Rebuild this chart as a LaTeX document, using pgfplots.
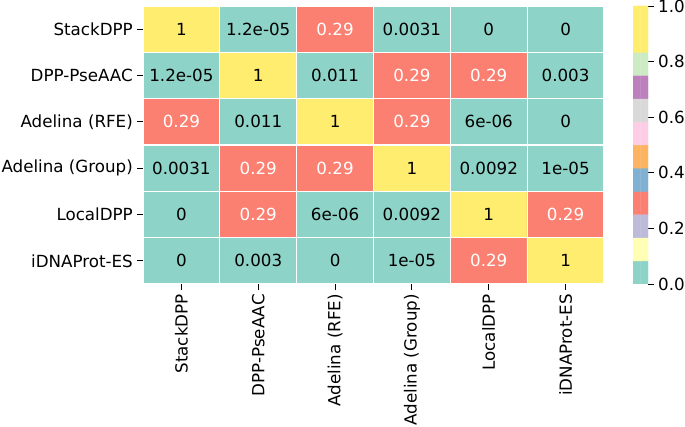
\documentclass[border=0pt]{standalone}
\usepackage{pgfplots}
\usepackage{pgfplotstable}
\usepackage{fontspec}
\setmainfont{DejaVu Sans}
\pgfplotsset{compat=1.18}
\newcommand\fs{\fontsize{16.7}{20}\selectfont}
\pgfplotsset{colormap={set3}{
 rgb255=(141,211,199) rgb255=(255,255,179) rgb255=(190,186,218) rgb255=(251,128,114)
 rgb255=(128,177,211) rgb255=(253,180,98) rgb255=(179,222,105) rgb255=(252,205,229)
 rgb255=(217,217,217) rgb255=(188,128,189) rgb255=(204,235,197) rgb255=(255,237,111)
 rgb255=(255,237,111)}}
\pgfplotstableread{
x y v label w
0 5 1 1 0
1 5 0.000012 1.2e-05 0
2 5 0.29 0.29 100
3 5 0.0031 0.0031 0
4 5 0 0 0
5 5 0 0 0
0 4 0.000012 1.2e-05 0
1 4 1 1 0
2 4 0.011 0.011 0
3 4 0.29 0.29 100
4 4 0.29 0.29 100
5 4 0.003 0.003 0
0 3 0.29 0.29 100
1 3 0.011 0.011 0
2 3 1 1 0
3 3 0.29 0.29 100
4 3 0.000006 6e-06 0
5 3 0 0 0
0 2 0.0031 0.0031 0
1 2 0.29 0.29 100
2 2 0.29 0.29 100
3 2 1 1 0
4 2 0.0092 0.0092 0
5 2 0.00001 1e-05 0
0 1 0 0 0
1 1 0.29 0.29 100
2 1 0.000006 6e-06 0
3 1 0.0092 0.0092 0
4 1 1 1 0
5 1 0.29 0.29 100
0 0 0 0 0
1 0 0.003 0.003 0
2 0 0 0 0
3 0 0.00001 1e-05 0
4 0 0.29 0.29 100
5 0 1 1 0
}\hm
\pgfplotstableread{
x y v
0.25 0.041667 0.041667
0.75 0.041667 0.041667
0.25 0.125 0.125
0.75 0.125 0.125
0.25 0.208333 0.208333
0.75 0.208333 0.208333
0.25 0.291667 0.291667
0.75 0.291667 0.291667
0.25 0.375 0.375
0.75 0.375 0.375
0.25 0.458333 0.458333
0.75 0.458333 0.458333
0.25 0.541667 0.541667
0.75 0.541667 0.541667
0.25 0.625 0.625
0.75 0.625 0.625
0.25 0.708333 0.708333
0.75 0.708333 0.708333
0.25 0.791667 0.791667
0.75 0.791667 0.791667
0.25 0.875 0.875
0.75 0.875 0.875
0.25 0.958333 0.958333
0.75 0.958333 0.958333
}\cb
\begin{document}
\begin{tikzpicture}
\begin{axis}[
 at={(0,0)}, anchor=north west, scale only axis, width=461pt, height=278pt,
 xmin=-0.5, xmax=5.5, ymin=-0.5, ymax=5.5,
 colormap name=set3, colormap access=piecewise constant,
 point meta min=0, point meta max=1,
 xtick={0,...,5}, ytick={0,...,5},
 xticklabels={StackDPP, DPP-PseAAC, Adelina (RFE), Adelina (Group), LocalDPP, iDNAProt-ES},
 yticklabels={iDNAProt-ES, LocalDPP, Adelina (Group), Adelina (RFE), DPP-PseAAC, StackDPP},
 xticklabel style={rotate=90, anchor=east, inner sep=4pt},
 yticklabel style={inner sep=4pt},
 ticklabel style={font=\fs},
 tick align=outside, xtick pos=bottom, ytick pos=left,
 major tick length=6pt,
 major tick style={black, line width=0.9pt},
 axis line style={draw=none},
 minor xtick={-0.5,0.5,1.5,2.5,3.5,4.5,5.5},
 minor ytick={-0.5,0.5,1.5,2.5,3.5,4.5,5.5},
 minor tick length=0pt,
 grid=minor, minor grid style={white, line width=1.3pt},
 axis on top,
]
\addplot[matrix plot*, mesh/cols=6, point meta=explicit] table[x=x, y=y, meta=v] {\hm};
\addplot[only marks, mark=none, point meta=explicit symbolic,
 visualization depends on={\thisrow{w} \as \wv},
 nodes near coords, nodes near coords align=center,
 every node near coord/.append style={font=\fs, text=white!\wv!black}]
 table[x=x, y=y, meta=label] {\hm};
\end{axis}
\begin{axis}[
 at={(490pt,0)}, anchor=north west, scale only axis, width=15pt, height=278pt,
 xmin=0, xmax=1, ymin=0, ymax=1,
 colormap name=set3, colormap access=piecewise constant,
 point meta min=0, point meta max=1,
 xtick=\empty, ytick={0,0.2,0.4,0.6,0.8,1},
 ytick pos=right, yticklabel pos=right,
 yticklabel style={font=\fs, inner sep=4pt, /pgf/number format/.cd, fixed, fixed zerofill, precision=1, assume math mode=true},
 tick align=outside, major tick length=6pt,
 major tick style={black, line width=0.9pt},
 axis line style={draw=none},
]
\addplot[matrix plot*, mesh/cols=2, point meta=explicit] table[x=x, y=y, meta=v] {\cb};
\end{axis}
\pgfresetboundingbox
\path (-143pt,6pt) rectangle (542pt,-421pt);
\end{tikzpicture}
\end{document}
